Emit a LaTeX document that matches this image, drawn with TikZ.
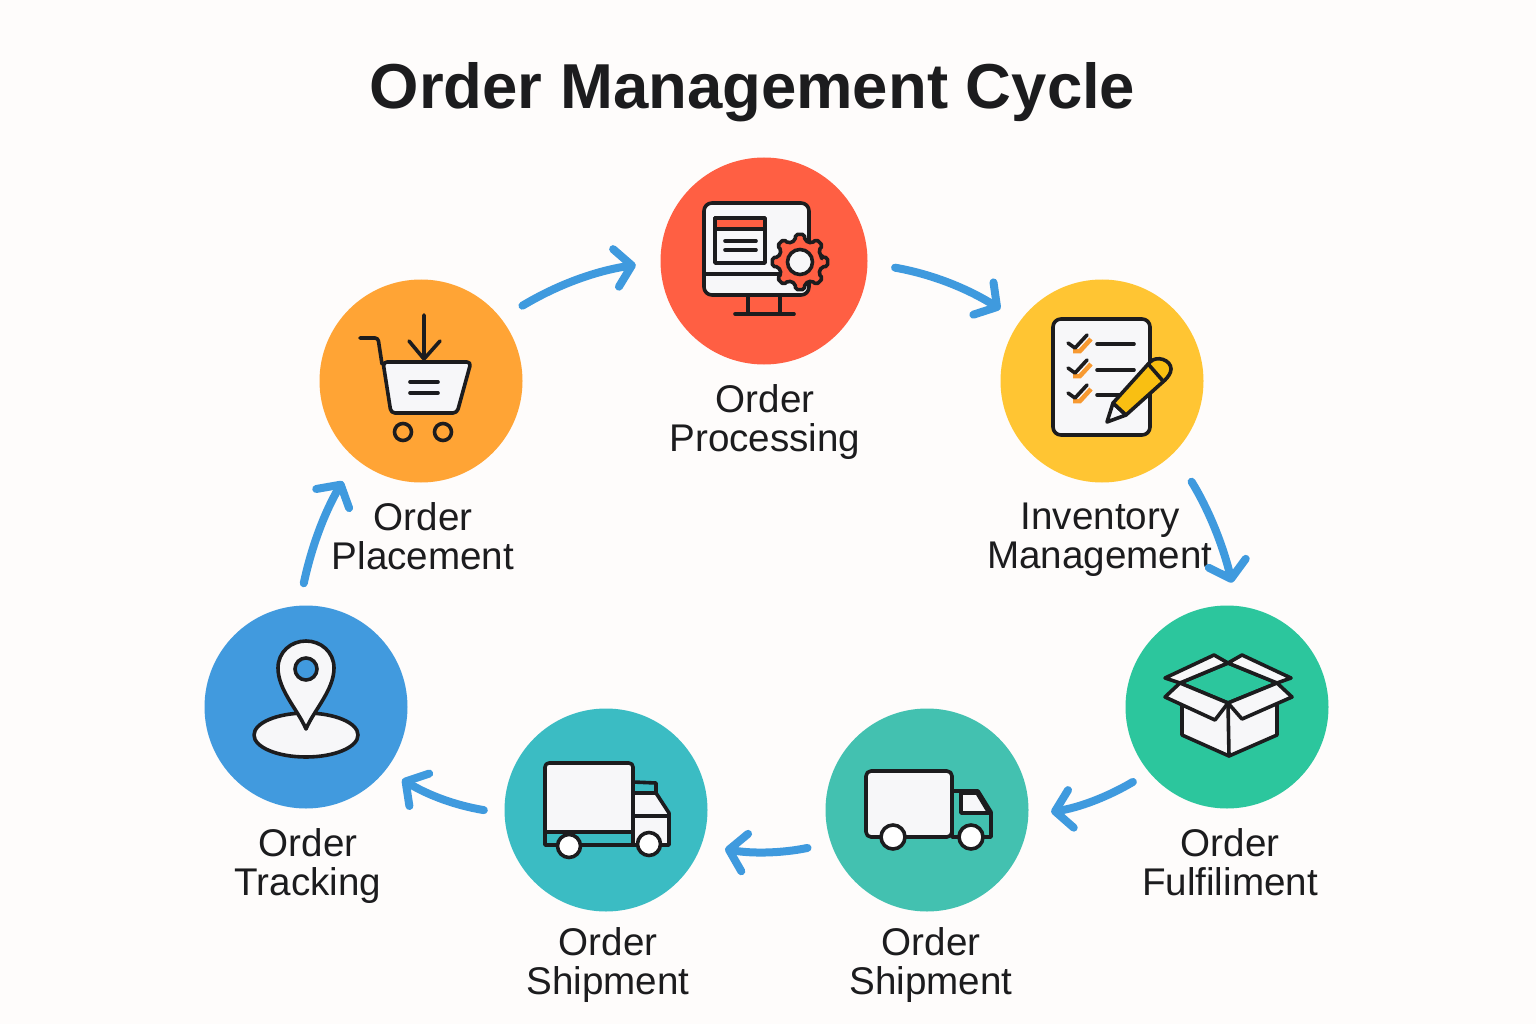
\documentclass[tikz,border=0pt]{standalone}
\usepackage{fontspec}
\setmainfont{Liberation Sans}
\usetikzlibrary{arrows.meta,positioning}
\definecolor{pagebg}{HTML}{FEFCFB}
\definecolor{inkdark}{HTML}{1C1C1E}
\definecolor{iconfill}{HTML}{F7F7F9}
\definecolor{flowblue}{HTML}{3F9ADE}
\definecolor{placeorange}{HTML}{FFA435}
\definecolor{procred}{HTML}{FF5F43}
\definecolor{invyellow}{HTML}{FFC533}
\definecolor{fulfilgreen}{HTML}{2CC69D}
\definecolor{shipteal}{HTML}{43C1B0}
\definecolor{shipcyan}{HTML}{3BBCC3}
\definecolor{trackblue}{HTML}{419ADE}
\definecolor{tickorange}{HTML}{F79A32}
\definecolor{pencilgold}{HTML}{F9BF12}

\begin{document}
\begin{tikzpicture}[
  x=1pt,y=-1pt,
  disc/.style={circle,minimum size=203pt,inner sep=0pt,outer sep=0pt},
  caption/.style={align=center,inner sep=0pt,text=inkdark,font=\fontsize{38.6}{39}\selectfont},
  flow/.style={-{Straight Barb[length=16pt,width=38pt,round]},line width=8pt,line cap=round,flowblue},
  iconline/.style={draw=inkdark,line width=3.6pt,line join=round,line cap=round},
  iconbody/.style={iconline,fill=iconfill}
]
\fill[pagebg] (0,0) rectangle (1536,1024);
\useasboundingbox (0,0) rectangle (1536,1024);

\node[text=inkdark,inner sep=0pt,font=\fontsize{63.5}{64}\selectfont\bfseries] (title) at (752.5,92) {Order Management Cycle};

\node[disc,fill=placeorange] (placement) at (421,381) {};
\node[disc,fill=procred,minimum size=207pt] (processing) at (764,261) {};
\node[disc,fill=invyellow] (inventory) at (1102,381) {};
\node[disc,fill=fulfilgreen] (fulfilment) at (1227,707) {};
\node[disc,fill=shipteal] (shipmentb) at (927,810) {};
\node[disc,fill=shipcyan] (shipmenta) at (606,810) {};
\node[disc,fill=trackblue] (tracking) at (306,707) {};

\node[caption,below=20pt of placement,xshift=2pt] (placementtxt) {Order\\Placement};
\node[caption,below=20pt of processing,xshift=1pt] (processingtxt) {Order\\Processing};
\node[caption,below=20pt of inventory,xshift=-2pt] (inventorytxt) {Inventory\\Management};
\node[caption,below=20pt of fulfilment,xshift=3pt] (fulfilmenttxt) {Order\\Fulfiliment};
\node[caption,below=16pt of shipmentb,xshift=4pt] (shipmentbtxt) {Order\\Shipment};
\node[caption,below=16pt of shipmenta,xshift=2pt] (shipmentatxt) {Order\\Shipment};
\node[caption,below=20pt of tracking,xshift=2pt] (trackingtxt) {Order\\Tracking};

\draw[flow,shorten <=25pt,shorten >=25pt] (placement.38.6) to[bend left=11] (processing.180);
\draw[flow,shorten <=28pt,shorten >=23pt] (processing.-1.3) to[bend left=11] (inventory.144);
\draw[flow,shorten <=34pt,shorten >=24pt] (inventory.-45.9) to[bend left=9] (fulfilment.84);
\draw[flow,shorten <=19pt,shorten >=23pt] (fulfilment.220.3) to[bend left=11] (shipmentb.-3.7);
\draw[flow,shorten <=24pt,shorten >=24pt] (shipmentb.199) to[bend left=11] (shipmenta.-20);
\draw[flow,shorten <=21pt,shorten >=19pt] (shipmenta.182.8) to[bend left=11] (tracking.-38.3);
\draw[flow,shorten <=23pt,shorten >=26pt] (tracking.94) to[bend left=9] (placement.230.7);

\draw[iconline,rounded corners=3pt] (360,338) -- (378,338) -- (382,364);
\draw[iconbody,rounded corners=4pt] (383,362) -- (471,362) -- (457,413) -- (391,413) -- cycle;
\draw[iconline] (410,382) -- (438,382) (410,393) -- (438,393);
\draw[iconline] (403,432) circle (8.5) (443,432) circle (8.5);
\draw[iconline] (424,315) -- (424,359) (409,341) -- (424,359) -- (440,341);

\draw[iconbody,rounded corners=8pt] (704,203) rectangle (809,295);
\draw[iconline] (704,274) -- (785,274);
\draw[iconline] (748,295) -- (748,314) (780,295) -- (780,314) (735,314) -- (794,314);
\draw[iconline,fill=iconfill] (715,218) rectangle (765,263);
\draw[iconline,fill=procred] (715,218) rectangle (765,229);
\draw[iconline] (725,241) -- (756,241) (725,250) -- (756,250);
\draw[iconline,fill=procred,rounded corners=2pt,shift={(800,262)}] (-14:22)
  \foreach \a in {0,45,...,315}{ -- (\a-13:22) -- (\a-9:28) -- (\a+9:28) -- (\a+13:22)} -- cycle;
\draw[iconbody] (800,262) circle (12.5);

\draw[iconbody,rounded corners=8pt] (1053,319) rectangle (1150,435);
\foreach \y in {0,25,50}{
  \draw[tickorange,line width=4.5pt] (1073,351+\y) -- (1080,351+\y) -- (1091,339+\y);
  \draw[iconline] (1068,343+\y) -- (1075,348+\y) -- (1087,335+\y);
}
\draw[iconline] (1097,344) -- (1134,344) (1097,370) -- (1134,370) (1097,395) -- (1122,395);
\draw[iconline,fill=iconfill] (1113,403) -- (1107,422) -- (1126,415) -- cycle;
\draw[iconline,fill=pencilgold] (1113,403) -- (1150,362) .. controls (1157,355) and (1171,360) .. (1171,369) .. controls (1171,373) and (1168,377) .. (1165,380) -- (1126,415) -- cycle;
\draw[iconline] (1149,365) -- (1163,381);

\draw[iconbody] (1182,705) -- (1182,735) -- (1229,756) -- (1277,735) -- (1277,703) -- (1228,680) -- cycle;
\draw[iconline,fill=fulfilgreen] (1228,663) -- (1277,683) -- (1228,703) -- (1180,683) -- cycle;
\draw[iconbody] (1165,678) -- (1214,655) -- (1228,663) -- (1180,683) -- cycle;
\draw[iconbody] (1242,655) -- (1291,678) -- (1277,683) -- (1228,663) -- cycle;
\draw[iconbody] (1180,683) -- (1165,697) -- (1215,720) -- (1228,703) -- cycle;
\draw[iconbody] (1277,683) -- (1292,697) -- (1242,719) -- (1228,703) -- cycle;
\draw[iconline] (1228,703) -- (1229,756);

\draw[iconbody] (306,735) ellipse [x radius=52,y radius=22];
\draw[iconbody] (306,729) .. controls (298,710) and (278,690) .. (278,668) .. controls (278,652) and (291,641) .. (306,641) .. controls (321,641) and (334,652) .. (334,668) .. controls (334,690) and (314,710) .. (306,729) -- cycle;
\draw[iconline,fill=trackblue] (306,669) circle (11);

\draw[iconbody,rounded corners=4pt] (545,845) -- (545,763) -- (633,763) -- (633,845) -- cycle;
\draw[iconline,fill=shipcyan] (545,832) rectangle (633,845);
\draw[iconline,fill=shipcyan] (633,782) -- (656,783) -- (656,793) -- (633,793) -- cycle;
\draw[iconbody] (633,793) -- (656,793) -- (669,813) -- (669,845) -- (633,845) -- cycle;
\draw[iconline] (633,816) -- (669,816);
\draw[iconline,fill=white] (569,846) circle (11.5);
\draw[iconline,fill=white] (649,844) circle (11.5);

\draw[iconline,fill=shipteal] (952,791) -- (978,791) -- (991,812) -- (991,837) -- (952,837) -- cycle;
\draw[iconbody] (961,793) -- (977,793) -- (989,813) -- (961,813) -- cycle;
\draw[iconbody,rounded corners=5pt] (866,771) rectangle (952,837);
\draw[iconline,fill=white] (893,837) circle (12);
\draw[iconline,fill=white] (971,837) circle (12);
\end{tikzpicture}
\end{document}
